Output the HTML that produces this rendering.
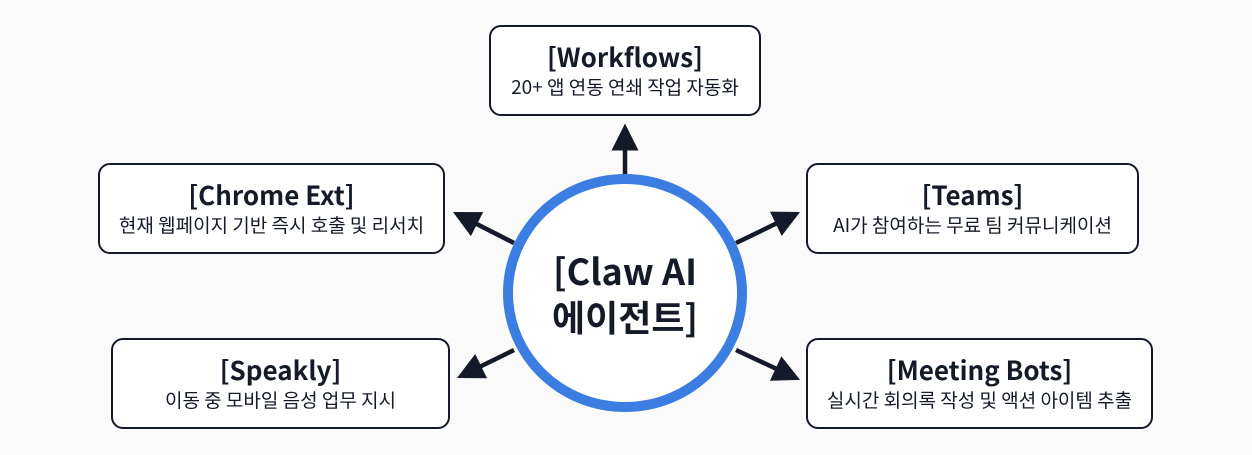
<!DOCTYPE html>
<html><head><meta charset="utf-8"><style>
body{margin:0;width:1252px;height:455px;background:#fafafa;font-family:"Liberation Sans","Noto Sans CJK KR",sans-serif;color:#141a28;overflow:hidden;position:relative}
.b{position:absolute;border:2.5px solid #141a28;border-radius:12px;background:#fff;box-sizing:border-box;text-align:center;display:flex;flex-direction:column;justify-content:center}
.t{font-family:"Noto Sans CJK KR",sans-serif;font-weight:700;font-size:26px;line-height:33px}
.s{font-family:"Noto Sans CJK KR",sans-serif;font-size:19px;line-height:28px}
svg{position:absolute;left:0;top:0}
.c{position:absolute;left:503px;top:174px;width:244px;height:238px;border:10px solid #3b7de0;border-radius:50%;box-sizing:border-box;background:#fff;display:flex;align-items:center;justify-content:center;text-align:center;font-family:"Noto Sans CJK KR",sans-serif;font-weight:700;font-size:36px;line-height:46px}
</style></head><body>
<svg width="1252" height="455">
<defs><marker id="a" markerWidth="6" markerHeight="6" refX="5" refY="3" orient="auto" markerUnits="strokeWidth"><path d="M0,0 L6,3 L0,6 Z" fill="#141a28"/></marker></defs>
<g stroke="#141a28" stroke-width="4.5" marker-end="url(#a)">
<line x1="625" y1="176" x2="625" y2="128"/>
<line x1="514" y1="243" x2="457" y2="214"/>
<line x1="736" y1="243" x2="796" y2="214"/>
<line x1="514" y1="350" x2="461" y2="376"/>
<line x1="736" y1="350" x2="796" y2="378"/>
</g></svg>
<div class="b" style="left:489px;top:25px;width:272px;height:91px"><div class="t">[Workflows]</div><div class="s">20+ 앱 연동 연쇄 작업 자동화</div></div>
<div class="b" style="left:98px;top:163px;width:347px;height:91px"><div class="t">[Chrome Ext]</div><div class="s">현재 웹페이지 기반 즉시 호출 및 리서치</div></div>
<div class="b" style="left:111px;top:338px;width:339px;height:91px"><div class="t">[Speakly]</div><div class="s">이동 중 모바일 음성 업무 지시</div></div>
<div class="b" style="left:806px;top:163px;width:333px;height:91px"><div class="t">[Teams]</div><div class="s">AI가 참여하는 무료 팀 커뮤니케이션</div></div>
<div class="b" style="left:806px;top:338px;width:347px;height:91px"><div class="t">[Meeting Bots]</div><div class="s">실시간 회의록 작성 및 액션 아이템 추출</div></div>
<div class="c"><div>[Claw AI<br>에이전트]</div></div>
</body></html>
